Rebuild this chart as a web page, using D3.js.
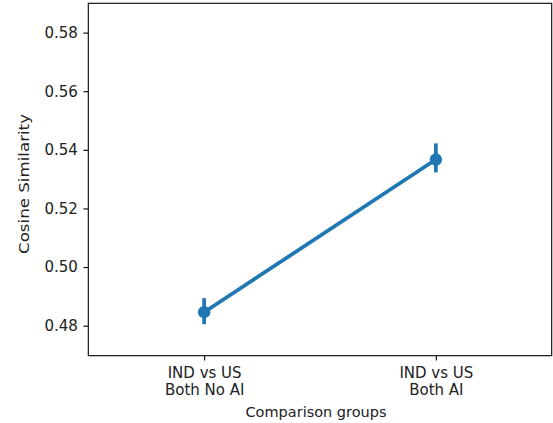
<!DOCTYPE html>
<html>
<head>
<meta charset="utf-8">
<script src="https://cdn.jsdelivr.net/npm/d3@7/dist/d3.min.js"></script>
<style>
  html, body { margin: 0; padding: 0; background: #ffffff; }
  svg { display: block; }
  text { font-family: "DejaVu Sans", sans-serif; fill: #222; }
</style>
</head>
<body>
<svg id="chart" width="553" height="423"></svg>
<script>
// ---- data ----
const categories = ["IND vs US\nBoth No AI", "IND vs US\nBoth AI"];
const means = [0.4846, 0.5367];
const ciLow = [0.4805, 0.5323];
const ciHigh = [0.4894, 0.5422];
const yTicks = [0.48, 0.50, 0.52, 0.54, 0.56, 0.58];
const xLabel = "Comparison groups";
const yLabel = "Cosine Similarity";

// ---- layout ----
const plotLeft = 88.3, plotRight = 551.7, plotTop = 3.3, plotBottom = 355.7;
const color = "#1f77b4";
const fs = 15;

const svg = d3.select("#chart");

const x = d3.scalePoint().domain(categories).range([plotLeft, plotRight]).padding(0.5);
const y = d3.scaleLinear().domain([0.46976, 0.5900]).range([plotBottom, plotTop]);

// y axis
const yAxis = d3.axisLeft(y).tickValues(yTicks).tickFormat(d3.format(".2f"))
  .tickSize(4.9).tickPadding(5.5);
const gy = svg.append("g").attr("transform", `translate(${plotLeft},0)`).call(yAxis);
gy.select(".domain").remove();
gy.selectAll(".tick line").attr("stroke", "#000").attr("stroke-width", 1.1);
gy.selectAll(".tick text").attr("font-size", fs).attr("font-family", "DejaVu Sans").attr("fill", "#222");

// x axis
const xAxis = d3.axisBottom(x).tickSize(4.9).tickPadding(4.9).tickFormat("");
const gx = svg.append("g").attr("transform", `translate(0,${plotBottom})`).call(xAxis);
gx.select(".domain").remove();
gx.selectAll(".tick text").remove();
gx.selectAll(".tick line").attr("stroke", "#000").attr("stroke-width", 1.1);
gx.selectAll(".tick").each(function(d) {
  const t = d3.select(this).append("text")
    .attr("text-anchor", "middle")
    .attr("font-size", fs)
    .attr("font-family", "DejaVu Sans")
    .attr("fill", "#222");
  d.split("\n").forEach((line, i) => {
    t.append("tspan").attr("x", 0).attr("y", 22 + i * 17.4).text(line);
  });
});

// frame
svg.append("rect")
  .attr("x", plotLeft).attr("y", plotTop)
  .attr("width", plotRight - plotLeft).attr("height", plotBottom - plotTop)
  .attr("fill", "none").attr("stroke", "#000").attr("stroke-width", 1.1);

// axis labels
svg.append("text")
  .attr("x", 316).attr("y", 417)
  .attr("text-anchor", "middle").attr("font-size", 14.5)
  .attr("textLength", 141).attr("lengthAdjust", "spacingAndGlyphs")
  .text(xLabel);
svg.append("text")
  .attr("transform", `translate(29,184) rotate(-90)`)
  .attr("text-anchor", "middle").attr("font-size", 14.5)
  .attr("textLength", 140).attr("lengthAdjust", "spacingAndGlyphs")
  .text(yLabel);

// data
const pts = categories.map((c, i) => ({c, m: means[i], lo: ciLow[i], hi: ciHigh[i]}));
const g = svg.append("g");
g.selectAll("line.err").data(pts).join("line")
  .attr("class", "err")
  .attr("x1", d => x(d.c)).attr("x2", d => x(d.c))
  .attr("y1", d => y(d.lo)).attr("y2", d => y(d.hi))
  .attr("stroke", color).attr("stroke-width", 3.75);
g.append("path")
  .datum(pts)
  .attr("d", d3.line().x(d => x(d.c)).y(d => y(d.m)))
  .attr("fill", "none").attr("stroke", color).attr("stroke-width", 3.75)
  .attr("stroke-linecap", "round");
g.selectAll("circle").data(pts).join("circle")
  .attr("cx", d => x(d.c)).attr("cy", d => y(d.m)).attr("r", 6.2)
  .attr("fill", color);
</script>
</body>
</html>
